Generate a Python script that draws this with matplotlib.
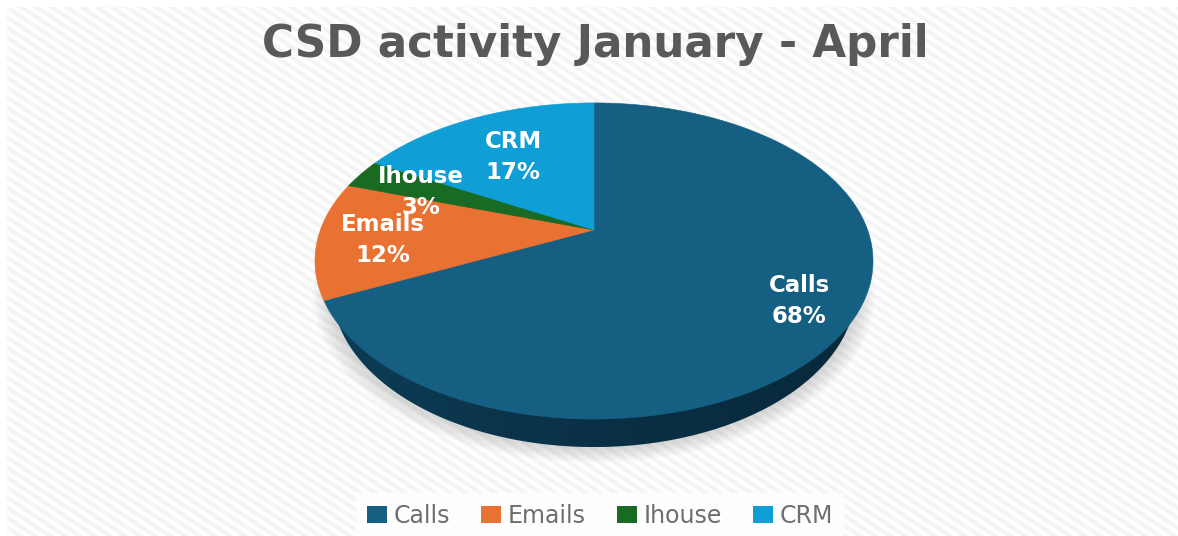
#!/usr/bin/env python3
import numpy as np
import matplotlib
matplotlib.use('Agg')
import matplotlib.pyplot as plt
from matplotlib.colors import LinearSegmentedColormap
from matplotlib.patches import Patch, Polygon

categories = ['Calls', 'Emails', 'Ihouse', 'CRM']
shares = [68, 12, 3, 17]
colors = ['#156082', '#E97132', '#196B24', '#0F9ED5']
title = 'CSD activity January - April'

# where the labels sit, in pixels
label_pos = [(799, 301), (383, 240), (421, 192), (513, 157)]

WIDTH, HEIGHT = 1178, 536
CX, APEX_Y = 594, 230
TILT = 0.196
A, B = 273.6, 152.0


def project(angle, radius=1.0, scale_x=1.0, shift_y=0.0):
    # angle runs clockwise from 12 o'clock, the far side of the pie is squeezed
    x = radius * np.sin(angle)
    y = radius * np.cos(angle)
    s = 1 / (1 + TILT * y)
    return CX + A * scale_x * x * s, APEX_Y + shift_y - B * y * s


fig = plt.figure(figsize=(WIDTH / 100, HEIGHT / 100), dpi=100)
ax = fig.add_axes([0, 0, 1, 1])

# striped background
xx, yy = np.meshgrid(np.arange(7, WIDTH), np.arange(7, HEIGHT))
stripes = 249 + 6 * np.sin(2 * np.pi * (xx / 15 - yy / 10))
ax.imshow(stripes, cmap='gray', vmin=0, vmax=255, extent=(7, WIDTH, HEIGHT, 7),
          interpolation='bilinear', aspect='auto', zorder=0)

circle = np.linspace(0, 2 * np.pi, 361)

# soft shadow under the pie
for grow in range(8):
    sx, sy = project(circle, radius=1.0 + grow * 0.008, scale_x=0.95, shift_y=30)
    ax.fill(sx, sy, color='#8a8a8a', alpha=0.045, lw=0, zorder=1)

# lower disc, only the rim shows
bx, by = project(circle, scale_x=0.939, shift_y=28)
rim = Polygon(np.column_stack([bx, by]), closed=True, transform=ax.transData, fc='none', lw=0)
ax.add_patch(rim)
rim_cmap = LinearSegmentedColormap.from_list('rim', ['#0d3c57', '#0a3045', '#08293b'])
gradient = ax.imshow(np.linspace(0, 1, 256).reshape(1, -1), cmap=rim_cmap,
                     extent=(bx.min(), bx.max(), by.max(), by.min()), aspect='auto', zorder=2)
gradient.set_clip_path(rim)

# top surface
fractions = np.cumsum([0] + shares) / sum(shares)
for i, color in enumerate(colors):
    arc = np.linspace(fractions[i], fractions[i + 1], 200) * 2 * np.pi
    ex, ey = project(arc)
    ax.fill(np.r_[CX, ex], np.r_[APEX_Y, ey], color=color, lw=0.4, zorder=3)

for name, share, (lx, ly) in zip(categories, shares, label_pos):
    ax.text(lx, ly, f'{name}\n{share}%', color='white', fontsize=16.5, fontweight='bold',
            family='DejaVu Sans', ha='center', va='center', linespacing=1.4, zorder=4)

ax.text(595, 44, title, color='#595959', fontsize=31.4, fontweight='bold',
        family='DejaVu Sans', ha='center', va='center', zorder=4)

handles = [Patch(facecolor=c, edgecolor='none') for c in colors]
leg = ax.legend(handles, categories, ncol=4, loc='center', bbox_to_anchor=(600, 516),
                bbox_transform=ax.transData, frameon=True, framealpha=0.85, facecolor='white',
                edgecolor='none', fancybox=False, handlelength=0.85, handleheight=0.7,
                handletextpad=0.3, columnspacing=1.3, borderpad=0.45,
                prop={'family': 'DejaVu Sans', 'size': 17}, labelcolor='#6e6e6e')
leg.set_zorder(5)

ax.set_xlim(0, WIDTH)
ax.set_ylim(HEIGHT, 0)
ax.axis('off')
fig.savefig('out.png', dpi=100, facecolor='white')
